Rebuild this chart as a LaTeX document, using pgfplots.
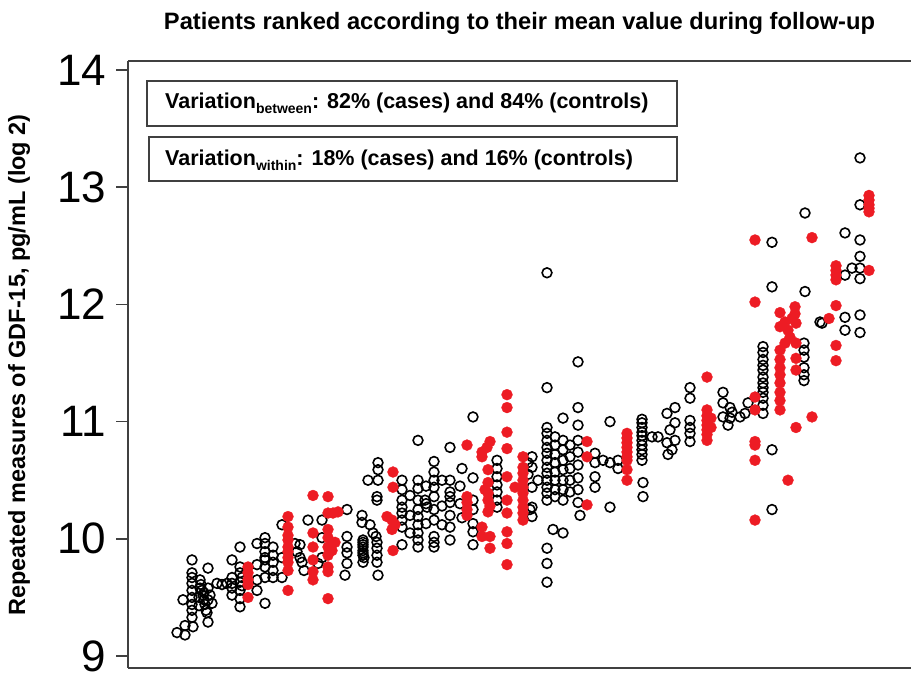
\documentclass[border=0pt]{standalone}
\usepackage{pgfplots}
\pgfplotsset{compat=1.18}
\usepackage{fontspec}
\setmainfont{Liberation Sans}
\definecolor{casered}{RGB}{237,28,36}
\definecolor{axgray}{RGB}{64,64,64}
\begin{document}
\begin{tikzpicture}
\useasboundingbox (0,0) rectangle (911pt,674pt);
\begin{axis}[
  at={(128pt,6pt)}, anchor=south west,
  scale only axis, width=783pt, height=607pt,
  xmin=128, xmax=911, ymin=8.898, ymax=14.077,
  axis x line*=box, axis y line*=left,
  xtick=\empty,
  ytick={9,10,11,12,13,14},
  tick align=outside, major tick length=12pt,
  every tick/.style={line width=1.5pt, axgray},
  axis line style={line width=2pt, axgray},
  yticklabel style={font=\fontsize{44}{44}\selectfont, xshift=-6pt},
  /pgf/number format/assume math mode=true,
  clip=false,
]
\addplot[only marks, mark=o, mark size=4.9pt, mark options={line width=1.6pt, black}] coordinates {
(177,9.20) (185,9.18) (185,9.26) (193,9.25) (183,9.48)
(192,9.82) (192,9.71) (192,9.67) (192,9.62) (192,9.56) (192,9.50) (192,9.44) (192,9.39) (192,9.33)
(200,9.65) (201,9.61) (202,9.56) (203,9.52) (204,9.48) (205,9.44) (206,9.39) (207,9.37) (200,9.58) (204,9.54)
(199,9.50) (199,9.43) (210,9.52) (212,9.45)
(208,9.75) (208,9.58) (208,9.48) (208,9.29)
(217,9.62) (222,9.61) (227,9.62)
(232,9.82) (232,9.67) (232,9.62) (232,9.58) (232,9.52)
(240,9.93) (240,9.76) (240,9.71) (240,9.63) (240,9.56) (240,9.49) (240,9.42) (242,9.67) (242,9.60)
(257,9.96) (257,9.78) (257,9.65) (257,9.56)
(265,10.01) (265,9.96) (265,9.89) (265,9.82) (265,9.76) (265,9.67) (265,9.45) (265,9.84)
(273,9.93) (273,9.86) (273,9.80) (273,9.73) (273,9.67)
(282,10.12) (282,9.84) (282,9.67)
(295,9.96) (297,9.89) (300,9.84) (302,9.80) (300,9.95) (304,9.73)
(308,10.16)
(322,10.16) (322,10.01) (322,9.84) (318,9.79)
(347,10.25) (347,10.02) (347,9.93) (347,9.88) (347,9.79) (345,9.69)
(362,10.20) (362,10.14)
(363,9.99) (363,9.97) (363,9.95) (363,9.93) (363,9.90) (363,9.88) (363,9.86) (364,9.84) (363,9.80)
(370,10.12) (373,10.05) (376,10.02) (377,9.97) (377,9.92) (377,9.86) (377,9.80) (378,9.69)
(378,10.65) (378,10.59) (368,10.50) (378,10.50) (377,10.36) (377,10.33)
(402,10.50) (402,10.42) (402,10.33) (402,10.27) (402,10.22) (402,10.16) (402,10.10) (402,9.95)
(410,10.37) (410,10.20) (410,10.05)
(418,10.84)
(418,10.50) (418,10.43) (418,10.33) (418,10.25) (418,10.19) (418,10.12) (418,10.05) (418,9.99) (418,9.93)
(425,10.33) (426,10.30) (427,10.27) (426,10.45) (426,10.13)
(434,10.66) (434,10.57) (434,10.50) (434,10.44) (434,10.36) (434,10.25) (434,10.16) (434,10.02) (434,9.97) (434,9.93)
(442,10.50) (450,10.50) (450,10.40) (450,10.36) (450,10.31) (450,10.20) (450,10.10) (450,9.99)
(442,10.28) (442,10.12)
(450,10.78)
(473,11.04)
(473,10.52) (473,10.33) (473,10.25) (473,10.13) (473,10.06) (473,9.95)
(460,10.45) (462,10.60) (460,10.30) (462,10.18)
(497,10.67) (497,10.60) (497,10.53) (497,10.46) (497,10.40) (497,10.33) (497,10.27)
(532,10.70) (532,10.61) (532,10.44) (532,10.27) (532,10.19) (530,10.25) (538,10.50)
(528,10.65) (528,10.55)
(547,12.27) (547,11.29)
(547,10.95) (547,10.90) (547,10.84) (547,10.78) (547,10.73) (547,10.67) (547,10.61) (547,10.56) (547,10.50) (547,10.44) (547,10.39) (547,10.33)
(555,10.87) (555,10.80) (555,10.72) (555,10.65) (555,10.57) (555,10.50) (555,10.42) (555,10.36)
(563,11.03) (563,10.84) (563,10.76) (563,10.67) (563,10.59) (563,10.50) (563,10.42) (563,10.33)
(570,10.80) (570,10.70) (570,10.60) (570,10.50) (570,10.40)
(578,11.51) (578,11.12) (578,10.97) (578,10.84) (578,10.74) (578,10.63) (578,10.52) (578,10.42) (578,10.31) (580,10.20)
(553,10.08) (563,10.05)
(547,9.92) (547,9.79) (547,9.63)
(595,10.73) (595,10.65) (595,10.53) (595,10.44)
(603,10.67) (610,10.65) (618,10.67) (618,10.60)
(610,11.00) (610,10.27)
(642,11.02) (642,10.99) (642,10.95) (642,10.91) (642,10.88) (642,10.84) (642,10.80) (642,10.76) (642,10.72) (642,10.67) (643,10.48) (643,10.36)
(652,10.87) (658,10.87)
(667,11.07) (675,11.12) (675,10.99) (675,10.84) (667,10.82) (670,10.93) (672,10.76) (668,10.72)
(690,11.29) (690,11.20) (690,11.01) (690,10.95) (690,10.90) (690,10.83)
(723,11.25) (723,11.16) (730,11.12) (730,11.03) (723,11.04) (728,10.97) (732,11.08)
(740,11.04) (748,11.16) (745,11.07)
(763,11.64) (763,11.59) (763,11.53) (763,11.48) (763,11.44) (763,11.38) (763,11.33) (763,11.29) (763,11.25) (763,11.20) (763,11.14) (763,11.07)
(772,12.53) (772,12.15) (772,10.76) (772,10.25)
(805,12.78) (805,12.11)
(804,11.67) (804,11.61) (804,11.55) (804,11.46) (804,11.40) (804,11.35)
(820,11.85) (822,11.84)
(845,12.61) (845,12.25) (852,12.31) (845,11.89) (845,11.78)
(860,13.25) (860,12.85) (860,12.55) (860,12.41) (860,12.31) (860,12.22) (860,11.91) (860,11.76)
};
\addplot[only marks, draw=casered, fill=casered, mark=*, mark size=5.5pt, mark options={draw=casered, fill=casered, line width=0.3pt}] coordinates {
(248,9.76) (248,9.71) (248,9.65) (248,9.61) (248,9.50)
(288,10.19) (288,10.10) (288,10.03) (288,9.99) (288,9.93) (288,9.89) (288,9.84) (288,9.80) (288,9.73) (288,9.56)
(313,10.37) (313,10.05) (313,9.93) (313,9.82) (313,9.72) (313,9.65)
(328,10.36) (328,10.22) (328,10.08) (328,10.01) (328,9.93) (328,9.86) (328,9.76) (328,9.72) (328,9.49) (333,10.22) (338,10.23) (335,9.97) (332,9.90)
(393,10.57) (393,10.44) (387,10.19) (392,10.16) (395,10.12) (392,10.08) (393,9.90)
(467,10.80) (467,10.36) (467,10.31) (467,10.25) (467,10.20)
(490,10.83) (487,10.78) (482,10.74) (482,10.70)
(488,10.59) (488,10.48) (488,10.39) (488,10.33) (488,10.23) (485,10.42) (490,10.28)
(482,10.10) (482,10.02) (490,10.02) (490,9.92)
(507,11.23) (507,11.12) (507,10.91) (507,10.77) (507,10.53) (507,10.33) (507,10.22) (507,10.06) (507,9.96) (507,9.78)
(523,10.70) (523,10.61) (523,10.56) (523,10.50) (523,10.44) (523,10.39) (523,10.33) (523,10.27) (523,10.22) (523,10.16) (515,10.44)
(587,10.83) (587,10.70) (587,10.29)
(627,10.90) (627,10.86) (627,10.82) (627,10.78) (627,10.74) (627,10.70) (627,10.67) (627,10.59) (627,10.50)
(707,11.38) (707,11.10) (707,11.05) (707,11.01) (707,10.97) (707,10.93) (707,10.89) (707,10.84) (711,11.03) (711,10.95)
(755,12.55) (755,12.02) (755,11.21) (755,11.10) (755,10.83) (755,10.80) (755,10.67) (755,10.16)
(780,11.93) (780,11.81) (780,11.61) (780,11.53) (780,11.46) (780,11.40) (780,11.33) (780,11.25) (780,11.18) (780,11.10)
(788,11.78) (790,11.72) (785,11.67) (785,11.85) (792,11.88) (795,11.98) (795,11.92) (796,11.84) (796,11.67) (796,11.54) (796,11.44) (796,10.95)
(788,10.50)
(812,12.57) (812,11.04)
(829,11.88) (836,11.99) (836,12.33) (836,12.29) (836,12.25) (836,12.21) (836,11.65) (836,11.52)
(869,12.29) (869,12.93) (869,12.89) (869,12.85) (869,12.82) (869,12.79)
};
\end{axis}
\node[font=\bfseries\fontsize{23.7}{24}\selectfont] at (519.5pt,651pt) {Patients ranked according to their mean value during follow-up};
\node[font=\bfseries\fontsize{23.5}{24}\selectfont, rotate=90] at (19pt,309pt) {Repeated measures of GDF-15, pg/mL (log 2)};
\draw[line width=2.5pt, axgray] (147pt,593pt) rectangle (677pt,548pt);
\draw[line width=2.5pt, axgray] (149pt,537pt) rectangle (677pt,493pt);
\node[anchor=west, inner sep=0pt, font=\bfseries\fontsize{21.5}{22}\selectfont] at (165pt,571pt) {Variation\raisebox{-5pt}{\fontsize{14}{14}\selectfont between}: 82\% (cases) and 84\% (controls)};
\node[anchor=west, inner sep=0pt, font=\bfseries\fontsize{21.5}{22}\selectfont] at (165pt,514pt) {Variation\raisebox{-5pt}{\fontsize{14}{14}\selectfont within}: 18\% (cases) and 16\% (controls)};
\end{tikzpicture}
\end{document}
